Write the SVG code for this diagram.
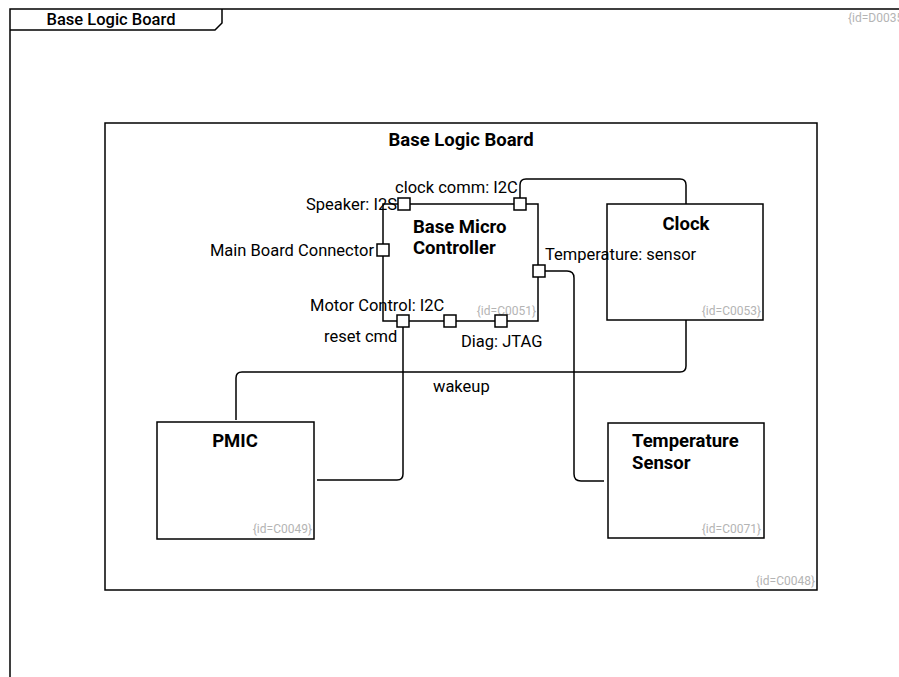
<svg xmlns="http://www.w3.org/2000/svg" width="899" height="677" viewBox="0 0 899 677">
<style>
.box{fill:#fff;stroke:#000;stroke-width:1.5}
.port{fill:#fff;stroke:#000;stroke-width:1.5}
.wire{fill:none;stroke:#000;stroke-width:1.5}
.t{font-family:Roboto,"Liberation Sans",sans-serif;font-size:16.5px;fill:#000}
.b{font-family:Roboto,"Liberation Sans",sans-serif;font-size:18.5px;font-weight:bold;fill:#000}
.id{font-family:Roboto,"Liberation Sans",sans-serif;font-size:12px;fill:#b4b4b4;text-anchor:end}
</style>
<rect width="899" height="677" fill="#fff"/>
<g id="frame">
<path class="wire" d="M10,677 V9 H899"/>
<path class="wire" d="M10,30 H215 L222,23 V9"/>
<text class="t" x="111" y="25" text-anchor="middle" font-weight="500" font-size="16px">Base Logic Board</text>
<text class="id" x="848" y="22" style="text-anchor:start">{id=D0035}</text>
</g>
<g id="C0048">
<rect class="box" x="105" y="123" width="712" height="467"/>
<text class="b" x="461" y="146" text-anchor="middle">Base Logic Board</text>
<text class="id" x="815" y="585">{id=C0048}</text>
</g>
<g id="connectors">
<path class="wire" d="M520,198 V185 Q520,179 526,179 H680 Q686,179 686,185 V204"/>
<path class="wire" d="M686,320 V366 Q686,372 680,372 H242 Q236,372 236,378 V420"/>
<path class="wire" d="M403,327 V474 Q403,480 397,480 H317"/>
<path class="wire" d="M545,271 H567 Q574,271 574,278 V474 Q574,481 581,481 H604"/>
</g>
<g id="C0053">
<rect class="box" x="607" y="204" width="156" height="116"/>
<text class="b" x="686" y="230" text-anchor="middle">Clock</text>
<text class="id" x="761" y="315">{id=C0053}</text>
</g>
<g id="C0049">
<rect class="box" x="157" y="422" width="157" height="117"/>
<text class="b" x="235" y="447" text-anchor="middle">PMIC</text>
<text class="id" x="312" y="533">{id=C0049}</text>
</g>
<g id="C0071">
<rect class="box" x="608" y="423" width="156" height="115"/>
<text class="b" x="632" y="447"><tspan x="632">Temperature</tspan><tspan x="632" dy="22">Sensor</tspan></text>
<text class="id" x="761" y="533">{id=C0071}</text>
</g>
<g id="C0051">
<rect class="box" x="383" y="204" width="155" height="117"/>
<text class="b" x="413" y="233"><tspan x="413">Base Micro</tspan><tspan x="413" dy="21">Controller</tspan></text>
<text class="id" x="536" y="315">{id=C0051}</text>
<rect class="port" x="398" y="198" width="12" height="12"/>
<rect class="port" x="514" y="198" width="12" height="12"/>
<rect class="port" x="377" y="244" width="12" height="12"/>
<rect class="port" x="533" y="265" width="12" height="12"/>
<rect class="port" x="397" y="315" width="12" height="12"/>
<rect class="port" x="444" y="315" width="12" height="12"/>
<rect class="port" x="495" y="315" width="12" height="12"/>
<text class="t" x="397" y="210" text-anchor="end">Speaker: I2S</text>
<text class="t" x="395" y="193">clock comm: I2C</text>
<text class="t" x="374" y="256" text-anchor="end">Main Board Connector</text>
<text class="t" x="545" y="260">Temperature: sensor</text>
<text class="t" x="310" y="311">Motor Control: I2C</text>
<text class="t" x="324" y="342">reset cmd</text>
<text class="t" x="461" y="347">Diag: JTAG</text>
<text class="t" x="433" y="392">wakeup</text>
</g>
</svg>
